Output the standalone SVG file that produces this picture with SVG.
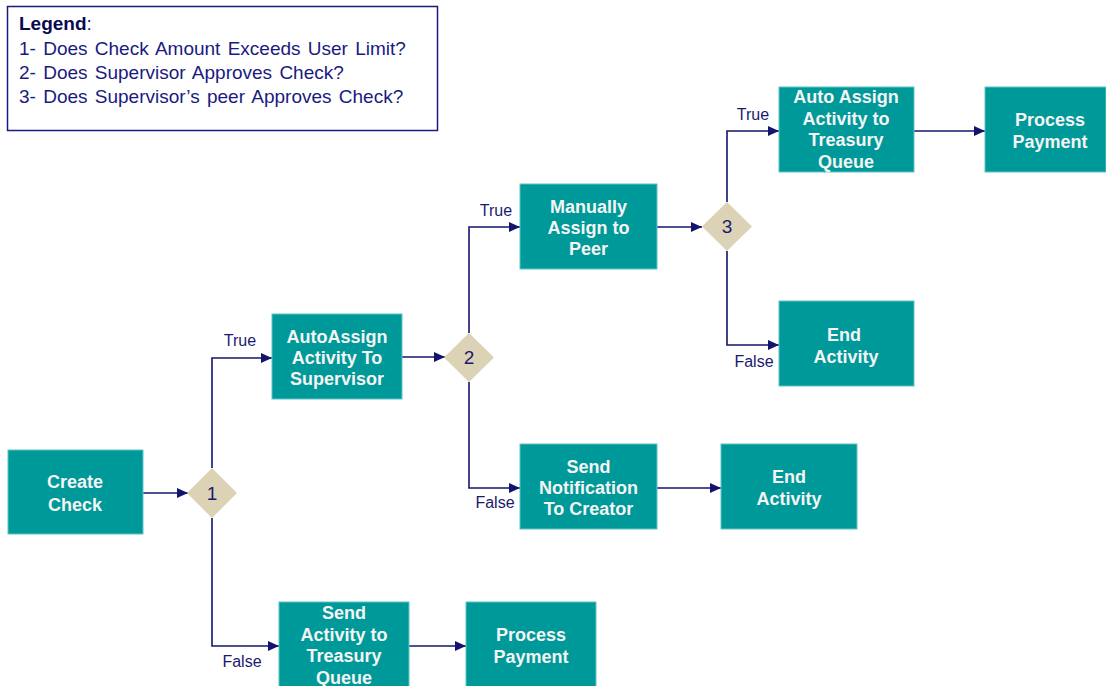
<svg xmlns="http://www.w3.org/2000/svg" width="1106" height="686" viewBox="0 0 1106 686">
<defs>
<style>
.box{fill:#009999;stroke:#5fc4c4;stroke-width:1}
.dia{fill:#dcd2b6}
.bt{font-family:"Liberation Sans",Arial,sans-serif;font-size:18px;font-weight:bold;fill:#f4f4f4;text-anchor:middle}
.num{font-family:"Liberation Sans",Arial,sans-serif;font-size:19px;fill:#1a1a6e;text-anchor:middle}
.lbl{font-family:"Liberation Sans",Arial,sans-serif;font-size:16px;fill:#1a1a6e;text-anchor:middle}
.leg{font-family:"Liberation Sans",Arial,sans-serif;font-size:19px;fill:#1a1a80;word-spacing:2px}
.con{fill:none;stroke:#14146e;stroke-width:1.6;marker-end:url(#arr)}
</style>
<marker id="arr" markerUnits="userSpaceOnUse" markerWidth="12" markerHeight="10" refX="11" refY="5" orient="auto">
<path d="M0,0 L11,5 L0,10 Z" fill="#14146e"/>
</marker>
</defs>
<rect width="1106" height="686" fill="#ffffff"/>

<g id="legend">
<rect x="7.5" y="6.5" width="430" height="124" fill="#ffffff" stroke="#1a1a80" stroke-width="1.5"/>
<text x="19" y="30" class="leg"><tspan font-weight="bold" fill="#0a0a50">Legend</tspan>:</text>
<text x="19" y="55" class="leg">1- Does Check Amount Exceeds User Limit?</text>
<text x="19" y="79" class="leg">2- Does Supervisor Approves Check?</text>
<text x="19" y="103" class="leg">3- Does Supervisor’s peer Approves Check?</text>
</g>

<g id="connectors">
<path class="con" d="M143,493 H188"/>
<path class="con" d="M212,468 V358 H272"/>
<path class="con" d="M212,518 V646 H279"/>
<path class="con" d="M402,357 H445"/>
<path class="con" d="M469,333 V227 H520"/>
<path class="con" d="M469,382 V488 H520"/>
<path class="con" d="M657,488 H721"/>
<path class="con" d="M657,227 H702"/>
<path class="con" d="M727,202 V131 H779"/>
<path class="con" d="M727,251 V345 H779"/>
<path class="con" d="M914,131 H985"/>
<path class="con" d="M409,646 H466"/>
<text x="240" y="346" class="lbl">True</text>
<text x="242" y="667" class="lbl">False</text>
<text x="496" y="216" class="lbl">True</text>
<text x="495" y="508" class="lbl">False</text>
<text x="753" y="120" class="lbl">True</text>
<text x="754" y="367" class="lbl">False</text>
</g>

<g id="create-check">
<rect class="box" x="8" y="450" width="135" height="84"/>
<text class="bt" x="75" y="488">Create</text>
<text class="bt" x="75" y="511">Check</text>
</g>

<g id="decision-1">
<path class="dia" d="M212,468 L237,493 L212,518 L187,493 Z"/>
<text class="num" x="212" y="500">1</text>
</g>

<g id="autoassign-supervisor">
<rect class="box" x="272" y="314" width="130" height="85"/>
<text class="bt" x="337" y="343">AutoAssign</text>
<text class="bt" x="337" y="364">Activity  To</text>
<text class="bt" x="337" y="385">Supervisor</text>
</g>

<g id="send-activity-treasury">
<rect class="box" x="279" y="602" width="130" height="90"/>
<text class="bt" x="344" y="619">Send</text>
<text class="bt" x="344" y="641">Activity to</text>
<text class="bt" x="344" y="662">Treasury</text>
<text class="bt" x="344" y="684">Queue</text>
</g>

<g id="process-payment-1">
<rect class="box" x="466" y="602" width="130" height="90"/>
<text class="bt" x="531" y="641">Process</text>
<text class="bt" x="531" y="663">Payment</text>
</g>

<g id="decision-2">
<path class="dia" d="M469,333 L494,357.5 L469,382 L444,357.5 Z"/>
<text class="num" x="469" y="364">2</text>
</g>

<g id="manually-assign-peer">
<rect class="box" x="520" y="184" width="137" height="85"/>
<text class="bt" x="588.5" y="213">Manually</text>
<text class="bt" x="588.5" y="234">Assign  to</text>
<text class="bt" x="588.5" y="255">Peer</text>
</g>

<g id="send-notification">
<rect class="box" x="520" y="444" width="137" height="85"/>
<text class="bt" x="588.5" y="473">Send</text>
<text class="bt" x="588.5" y="494">Notification</text>
<text class="bt" x="588.5" y="515">To Creator</text>
</g>

<g id="end-activity-1">
<rect class="box" x="721" y="444" width="136" height="85"/>
<text class="bt" x="789" y="483">End</text>
<text class="bt" x="789" y="505">Activity</text>
</g>

<g id="decision-3">
<path class="dia" d="M727,202 L752,226.5 L727,251 L702,226.5 Z"/>
<text class="num" x="727" y="233">3</text>
</g>

<g id="auto-assign-treasury">
<rect class="box" x="779" y="87" width="135" height="85"/>
<text class="bt" x="846" y="103">Auto Assign</text>
<text class="bt" x="846" y="125">Activity to</text>
<text class="bt" x="846" y="146">Treasury</text>
<text class="bt" x="846" y="168">Queue</text>
</g>

<g id="process-payment-2">
<rect class="box" x="985" y="87" width="121" height="85"/>
<text class="bt" x="1050" y="126">Process</text>
<text class="bt" x="1050" y="148">Payment</text>
</g>

<g id="end-activity-2">
<rect class="box" x="779" y="301" width="135" height="85"/>
<text class="bt" x="844" y="341">End</text>
<text class="bt" x="846" y="363">Activity</text>
</g>
</svg>
